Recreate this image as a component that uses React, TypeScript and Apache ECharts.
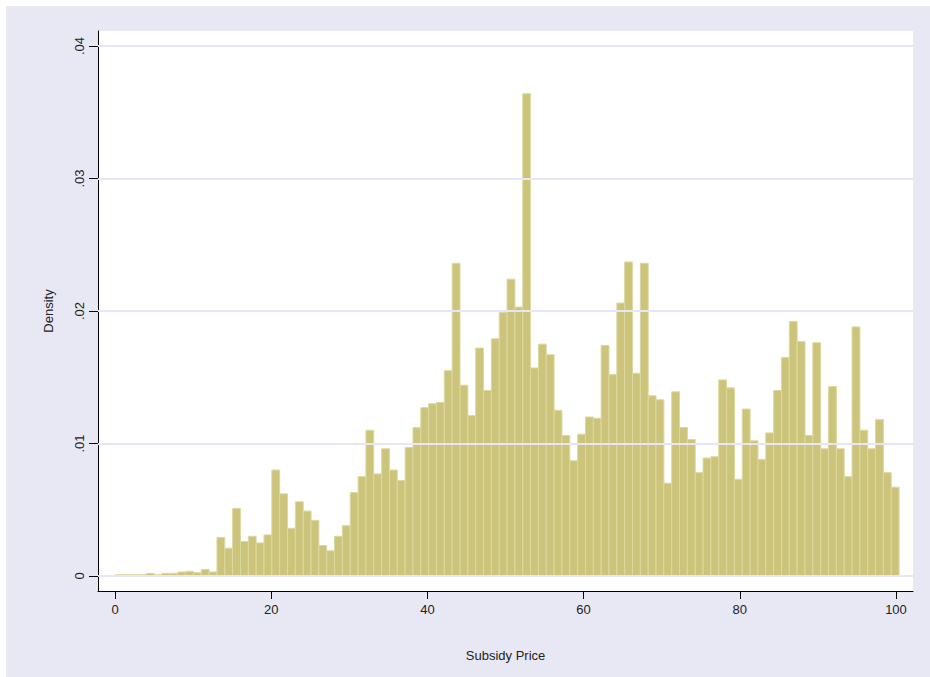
import React, { useEffect, useRef } from "react";
import * as echarts from "echarts";

const binStart = 0;
const binWidth = 1.004;
const densities = [
  0.0001, 0.0001, 0.0001, 0.0001, 0.0002, 0.0001, 0.0002, 0.0002, 0.0003, 0.00035,
  0.00025, 0.0005, 0.0003, 0.0029, 0.0021, 0.0051, 0.0026, 0.003, 0.0025, 0.0031,
  0.008, 0.0062, 0.0036, 0.0056, 0.0049, 0.0042, 0.0023, 0.0019, 0.003, 0.0038,
  0.0063, 0.0075, 0.011, 0.0077, 0.0096, 0.008, 0.0072, 0.0097, 0.0112, 0.0127,
  0.013, 0.0131, 0.0155, 0.0236, 0.0144, 0.0121, 0.0172, 0.014, 0.0179, 0.0199,
  0.0224, 0.0203, 0.0364, 0.0157, 0.0175, 0.0167, 0.0125, 0.0106, 0.0087, 0.0107,
  0.012, 0.0119, 0.0174, 0.0152, 0.0206, 0.0237, 0.0153, 0.0236, 0.0136, 0.0133,
  0.007, 0.0139, 0.0112, 0.0103, 0.0078, 0.0089, 0.009, 0.0148, 0.0142, 0.0073,
  0.0126, 0.0102, 0.0088, 0.0108, 0.014, 0.0165, 0.0192, 0.0177, 0.0106, 0.0176,
  0.0096, 0.0143, 0.0096, 0.0075, 0.0188, 0.011, 0.0096, 0.0118, 0.0078, 0.0067,
];
const xTicks = [0, 20, 40, 60, 80, 100];
const yTicks = [0, 0.01, 0.02, 0.03, 0.04];
const xTitle = "Subsidy Price";
const yTitle = "Density";

const FONT = "'Liberation Sans', Arial, sans-serif";

export default function App() {
  const ref = useRef<HTMLDivElement>(null);
  useEffect(() => {
    if (!ref.current) return;
    const chart = echarts.init(ref.current, null, { renderer: "svg" });
    const bins = densities.map((d, i) => [
      binStart + i * binWidth,
      binStart + (i + 1) * binWidth,
      d,
    ]);
    const yLabel = (v: number) =>
      v === 0 ? "0" : "." + String(Math.round(v * 100)).padStart(2, "0");
    chart.setOption({
      animation: false,
      backgroundColor: "#e8e8f5",
      grid: { left: 92, top: 25, width: 815, height: 560, show: true, backgroundColor: "#ffffff", borderWidth: 0 },
      xAxis: {
        type: "value",
        min: -2.18,
        max: 102.18,
        name: xTitle,
        nameLocation: "middle",
        nameGap: 58,
        nameTextStyle: { fontFamily: FONT, fontSize: 13, color: "#222" },
        axisLine: { show: true, onZero: false, lineStyle: { color: "#000", width: 1 } },
        axisTick: { show: true, length: 8, customValues: xTicks, lineStyle: { color: "#000" } },
        axisLabel: { customValues: xTicks, fontFamily: FONT, fontSize: 13, color: "#222", margin: 12 },
        splitLine: { show: false },
      },
      yAxis: {
        type: "value",
        min: -0.001132,
        max: 0.041132,
        name: yTitle,
        nameLocation: "middle",
        nameGap: 43,
        nameRotate: 90,
        nameTextStyle: { fontFamily: FONT, fontSize: 13, color: "#222" },
        axisLine: { show: true, onZero: false, lineStyle: { color: "#000", width: 1 } },
        axisTick: { show: true, length: 9, customValues: yTicks, lineStyle: { color: "#000" } },
        axisLabel: {
          customValues: yTicks,
          rotate: 90,
          formatter: yLabel,
          fontFamily: FONT,
          fontSize: 13,
          color: "#222",
          margin: 12,
        },
        splitLine: { show: false },
      },
      series: [
        {
          type: "line",
          data: [],
          z: 1,
          silent: true,
          markLine: {
            silent: true,
            symbol: ["none", "none"],
            label: { show: false },
            lineStyle: { color: "#e6e6f8", width: 2, type: "solid" },
            data: yTicks.map((v) => ({ yAxis: v })),
          },
        },
        {
          type: "custom",
          z: 3,
          data: bins,
          renderItem: (params: any, api: any) => {
            const p0 = api.coord([api.value(0), api.value(2)]);
            const p1 = api.coord([api.value(1), 0]);
            return {
              type: "rect",
              shape: { x: p0[0], y: p0[1], width: p1[0] - p0[0], height: p1[1] - p0[1] },
              style: { fill: "#ccc47a", stroke: "#dcd8a0", lineWidth: 1 },
            };
          },
        },
      ],
    });
    return () => chart.dispose();
  }, []);
  return (
    <div style={{ position: "fixed", left: 0, top: 0, width: 930, height: 677, background: "#ffffff" }}>
      <div ref={ref} style={{ position: "absolute", left: 6, top: 6, width: 924, height: 671 }} />
    </div>
  );
}
